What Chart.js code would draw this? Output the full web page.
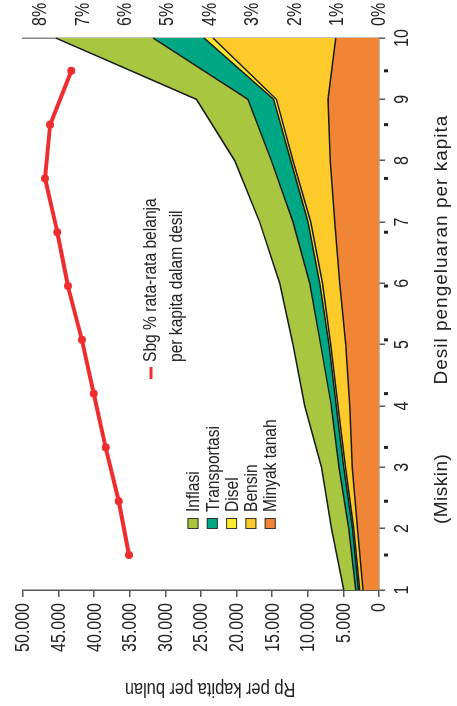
<!DOCTYPE html>
<html>
<head>
<meta charset="utf-8">
<script src="https://cdn.jsdelivr.net/npm/chart.js@4.4.0/dist/chart.umd.min.js"></script>
<style>
  html, body { margin: 0; padding: 0; background: #fff; overflow: hidden; }
  #wrap {
    position: absolute; left: 0; top: 0; width: 706px; height: 457px;
    transform-origin: 0 0;
    transform: translateY(706px) rotate(-90deg);
  }
</style>
</head>
<body>
<div id="wrap"><canvas id="myChart" width="706" height="457"></canvas></div>
<script>
/* Data */

const deciles = ['1', '2', '3', '4', '5', '6', '7', '8', '9', '10']
const minyakTanah = [2250, 3030, 3740, 4120, 4680, 5520, 6220, 6830, 7160, 6080]
const bensin = [460, 520, 980, 1640, 2110, 2430, 3370, 5250, 7250, 17230]
const disel = [180, 180, 240, 230, 240, 380, 380, 320, 380, 1260]
const transportasi = [380, 520, 660, 700, 1170, 1400, 2110, 2710, 3610, 7160]
const inflasi = [1690, 2430, 2470, 3750, 3890, 4210, 4680, 5150, 7250, 13670]
const belanjaPct = [5.90, 6.14, 6.45, 6.73, 7.01, 7.34, 7.59, 7.88, 7.76, 7.26]
const rpTicks = [0, 5000, 10000, 15000, 20000, 25000, 30000, 35000, 40000, 45000, 50000]
const pctTicks = [0, 1, 2, 3, 4, 5, 6, 7, 8]

const legendItems = [
    ['Inflasi', '#a8c640'],
    ['Transportasi', '#00a784'],
    ['Disel', '#fde92e'],
    ['Bensin', '#fccb2a'],
    ['Minyak tanah', '#f08535'],
]
const redLabel = ['Sbg % rata-rata belanja', 'per kapita dalam desil']

// no narrow font installed, so most text is squeezed by hand
const family = "'Liberation Sans', Arial, sans-serif"
const textColor = '#222'

const fmt = (v) => String(v).replace(/\B(?=(\d{3})+(?!\d))/g, '.')

const area = (label, data, color, fill) => ({
    label, data, fill,
    backgroundColor: color,
    borderColor: '#1b1b1b',
    borderWidth: 1.5,
    pointRadius: 0,
    tension: 0,
    xAxisID: 'x',
    yAxisID: 'y',
})

function text(ctx, str, x, y, align, opts = {}) {
    ctx.save()
    ctx.font = (opts.size || 19) + 'px ' + family
    if (opts.spacing) ctx.letterSpacing = opts.spacing
    ctx.translate(x, y)
    if (opts.rot) ctx.rotate(opts.rot)
    ctx.scale(opts.squeeze || 0.82, 1)
    ctx.textAlign = align
    ctx.fillText(str, 0, 0)
    ctx.restore()
}

/* Texts, legends, secondary ticks */

const extras = {
    id: 'extras',
    afterDraw(chart) {
        const ctx = chart.ctx
        const ca = chart.chartArea
        const {x, x2, y, y2} = chart.scales
        ctx.save()

        // small ticks of the percent series axis
        ctx.fillStyle = '#222'
        belanjaPct.forEach((v, i) => {
            const u = x2.getPixelForValue(i + 1)
            ctx.fillRect(u - 1.5, ca.bottom + 5, 3, 4)
        })

        ctx.textBaseline = 'middle'
        ctx.fillStyle = textColor

        // tick labels
        rpTicks.forEach((t) => text(ctx, fmt(t), 103, y.getPixelForValue(t) + 1, 'right', {size: 19.5}))
        pctTicks.forEach((t) => text(ctx, t + '%', 680, y2.getPixelForValue(t) + 1, 'left', {size: 19.5}))
        deciles.forEach((d, i) => text(ctx, d, x.getPixelForValue(i), 403, 'center', {size: 19.5}))

        // axis titles
        text(ctx, 'Rp per kapita per bulan', 17, (ca.top + ca.bottom) / 2 + 9, 'center', {size: 20, rot: -Math.PI / 2})
        text(ctx, '(Miskin)', x.getPixelForValue(1.65), 442, 'center', {squeeze: 1, spacing: '0.5px'})
        text(ctx, 'Desil pengeluaran per kapita', x.getPixelForValue(5.55), 442, 'center', {squeeze: 1, spacing: '1px'})

        // area legend
        legendItems.forEach(([name, color], i) => {
            const v = 193 + i * 19.3
            ctx.fillStyle = color
            ctx.fillRect(177, v - 5.5, 11, 11)
            ctx.strokeStyle = '#333'
            ctx.lineWidth = 1
            ctx.strokeRect(177.5, v - 5, 10, 10)
            ctx.fillStyle = textColor
            text(ctx, name, 194, v + 1, 'left')
        })

        // red series legend
        ctx.strokeStyle = '#ee2e2e'
        ctx.lineWidth = 3
        ctx.beginPath()
        ctx.moveTo(327, 151)
        ctx.lineTo(339, 151)
        ctx.stroke()
        ctx.fillStyle = textColor
        text(ctx, redLabel[0], 344, 151, 'left')
        text(ctx, redLabel[1], 344, 177, 'left')

        ctx.restore()
    }
}

/* Chart */

const ctx = document.getElementById('myChart')
new Chart(ctx, {
    type: 'line',
    data: {
        labels: deciles,
        datasets: [
            area('Minyak tanah', minyakTanah, '#f08535', 'origin'),
            area('Bensin', bensin, '#fccb2a', '-1'),
            area('Disel', disel, '#fde92e', '-1'),
            area('Transportasi', transportasi, '#00a784', '-1'),
            area('Inflasi', inflasi, '#a8c640', '-1'),
            {
                label: 'Sbg % rata-rata belanja per kapita dalam desil',
                data: belanjaPct.map((v, i) => ({x: i + 1, y: v})),
                borderColor: '#ee2e2e',
                backgroundColor: '#ee2e2e',
                borderWidth: 4,
                pointRadius: 4,
                pointBorderWidth: 0,
                fill: false,
                order: -1,
                xAxisID: 'x2',
                yAxisID: 'y2',
            },
        ]
    },
    options: {
        responsive: false,
        animation: false,
        layout: {padding: {top: 23, left: 0, right: 0, bottom: 0}},
        scales: {
            x: {
                type: 'category',
                offset: false,
                grid: {drawOnChartArea: false, drawTicks: true, tickLength: 6, color: '#555', lineWidth: 1.5},
                border: {display: true, color: '#777', width: 1.5},
                ticks: {display: false, autoSkip: false},
                afterFit: (s) => { s.height = 78 },
            },
            x2: {
                type: 'linear',
                display: false,
                min: 0.35,
                max: 10.61,
            },
            y: {
                stacked: true,
                min: 0,
                max: 50000,
                grid: {drawOnChartArea: false, drawTicks: true, tickLength: 7, color: '#555', lineWidth: 1.5},
                border: {display: true, color: '#555', width: 1.5},
                afterBuildTicks: (s) => { s.ticks = rpTicks.map((value) => ({value})) },
                ticks: {display: false},
                afterFit: (s) => { s.width = 116 },
            },
            y2: {
                position: 'right',
                min: 0,
                max: 8.4,
                grid: {drawOnChartArea: false, drawTicks: false},
                border: {display: true, color: '#888', width: 1.5},
                ticks: {display: false},
                afterFit: (s) => { s.width = 38 },
            },
        },
        plugins: {
            legend: {display: false},
            tooltip: {enabled: false},
        }
    },
    plugins: [extras]
})
</script>
</body>
</html>
